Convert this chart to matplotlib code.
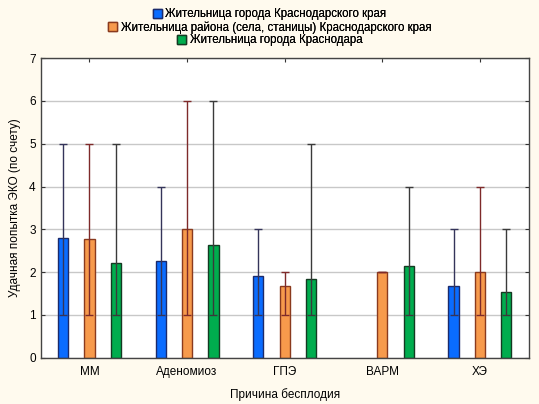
import matplotlib.pyplot as plt
import numpy as np

plt.rcParams['font.family'] = ['Liberation Sans', 'DejaVu Sans']

categories = ['ММ', 'Аденомиоз', 'ГПЭ', 'ВАРМ', 'ХЭ']
series_names = ['Жительница города Краснодарского края',
                'Жительница района (села, станицы) Краснодарского края',
                'Жительница города Краснодара']

# средние значения (nan = нет данных)
means = [
    [2.79, 2.26, 1.92, np.nan, 1.68],
    [2.77, 3.00, 1.68, 2.00, 2.00],
    [2.22, 2.63, 1.84, 2.14, 1.53],
]
# минимум / максимум для усов
lows = [
    [1, 1, 1, np.nan, 1],
    [1, 1, 1, 2, 1],
    [1, 1, 1, 1, 1],
]
highs = [
    [5, 4, 3, np.nan, 3],
    [5, 6, 2, 2, 4],
    [5, 6, 5, 4, 3],
]

colors = ['#0A6CFF', '#F79A4C', '#00AD4E']
edges = ['#1B2A6B', '#8A3A1E', '#143A22']
err_colors = ['#34345A', '#7E2A2A', '#3A3A3A']

fig = plt.figure(figsize=(5.39, 4.04), dpi=100)
fig.patch.set_facecolor('#FFFAEE')
ax = fig.add_axes([0.0753, 0.1146, 0.9057, 0.7414])
ax.set_facecolor('white')

x = np.arange(len(categories))
offset = 0.27
width = 0.105

handles = []
for i in range(3):
    m = np.array(means[i], dtype=float)
    lo = np.array(lows[i], dtype=float)
    hi = np.array(highs[i], dtype=float)
    pos = x + (i - 1) * offset
    b = ax.bar(pos, m, width=width, color=colors[i], edgecolor=edges[i],
               linewidth=1.0, zorder=2, label=series_names[i])
    handles.append(b)
    ok = ~np.isnan(m)
    ax.errorbar(pos[ok], m[ok], yerr=[m[ok] - lo[ok], hi[ok] - m[ok]],
                fmt='none', ecolor=err_colors[i], elinewidth=1.0,
                capsize=3, capthick=1.0, zorder=3)

ax.set_xlim(-0.5, 4.5)
ax.set_ylim(0, 7)
ax.set_yticks(range(8))
ax.set_xticks(x)
ax.set_xticklabels(categories, fontsize=8.5)
ax.tick_params(axis='y', labelsize=8.5)
ax.tick_params(direction='in', top=True, right=True, length=3, color='#333333')
ax.tick_params(axis='x', pad=6)
ax.yaxis.grid(True, color='#C8C8C8', linewidth=1.0, zorder=0)
ax.set_axisbelow(True)
for sp in ax.spines.values():
    sp.set_color('#444444')
    sp.set_linewidth(1.0)

ax.set_xlabel('Причина бесплодия', fontsize=8.5, labelpad=7)
ax.set_ylabel('Удачная попытка ЭКО (по счету)', fontsize=8.5, labelpad=6)

# каждая строка легенды центрируется отдельно
leg_y = [14.5, 27.5, 40.5]
for h, name, yy in zip(handles, series_names, leg_y):
    lg = fig.legend(handles=[h], labels=[name], loc='center',
                    bbox_to_anchor=(0.5, 1 - yy / 404), frameon=False,
                    fontsize=8.3, handlelength=0.8, handleheight=0.8,
                    handletextpad=0.3, borderpad=0, borderaxespad=0)
    fig.add_artist(lg)

plt.savefig('out.png', dpi=100, facecolor=fig.get_facecolor())
